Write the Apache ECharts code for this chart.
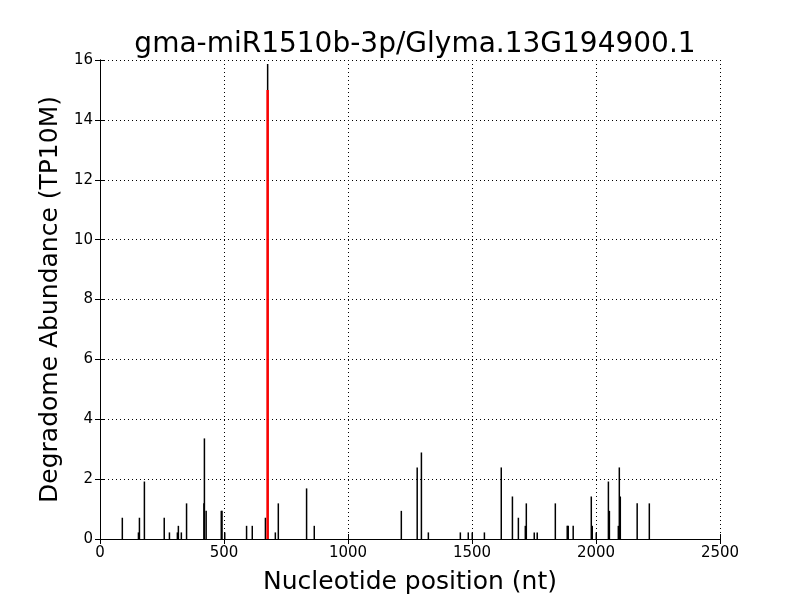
<!DOCTYPE html>
<html><head><meta charset="utf-8">
<script src="https://cdn.jsdelivr.net/npm/echarts@6/dist/echarts.min.js"></script>
<style>html,body{margin:0;padding:0;background:#fff}#c{width:800px;height:600px}</style>
</head><body><div id="c"></div>
<script>
var titleText = "gma-miR1510b-3p/Glyma.13G194900.1";
var xTicks = [0, 500, 1000, 1500, 2000, 2500];
var yTicks = [0, 2, 4, 6, 8, 10, 12, 14, 16];
var positions = [90, 155, 159, 179, 259, 280, 312, 316, 328, 349, 419, 421, 428, 489, 492, 503, 591, 614, 667, 676, 707, 719,
  833, 864, 1215, 1279, 1296, 1324, 1453, 1485, 1501, 1550,
  1618, 1663, 1687, 1715, 1719, 1751, 1763, 1836, 1884, 1888, 1908, 1981, 1985, 2001, 2050, 2054, 2090, 2094, 2098, 2166, 2215];
var abundance = [0.71, 0.22, 0.71, 1.92, 0.71, 0.22, 0.22, 0.44, 0.22, 1.19, 1.19, 3.36, 0.94, 0.94, 0.94, 0.22, 0.44, 0.44, 0.71, 15.87, 0.22, 1.19,
  1.69, 0.44, 0.94, 2.39, 2.89, 0.22, 0.22, 0.22, 0.22, 0.22,
  2.39, 1.42, 0.71, 0.44, 1.19, 0.22, 0.22, 1.19, 0.44, 0.44, 0.44, 1.42, 0.44, 0.22, 1.92, 0.94, 0.44, 2.39, 1.42, 1.19, 1.19];
var targetPos = [676];
var targetVal = [15.0];

function pairs(xs, ys){ return xs.map(function(x,i){ return [x, ys[i]]; }); }
function lineRenderer(color, width){
  return function(params, api){
    var p0 = api.coord([api.value(0), 0]);
    var p1 = api.coord([api.value(0), api.value(1)]);
    return {type:'line', shape:{x1:p0[0], y1:p0[1], x2:p1[0], y2:p1[1]},
      style:{stroke:color, lineWidth:width}};
  };
}
var font = 'DejaVu Sans';
var chart = echarts.init(document.getElementById('c'), null, {renderer:'canvas'});
var axisCommon = {
  axisLine:{show:true, lineStyle:{color:'#000', width:1}},
  axisTick:{show:true, inside:true, length:5, lineStyle:{color:'#000'}},
};
chart.setOption({
  animation:false,
  backgroundColor:'#fff',
  title:{text:titleText, left:410, top:26, textAlign:'center',
    textStyle:{fontFamily:font, fontSize:28, fontWeight:'normal', color:'#000'}},
  grid:{left:100, right:80, top:60, bottom:60, containLabel:false, show:false},
  xAxis:[
    Object.assign({type:'value', min:0, max:2500, interval:500, position:'bottom',
      name:'Nucleotide position (nt)', nameLocation:'middle', nameGap:31,
      nameTextStyle:{fontFamily:font, fontSize:25, color:'#000'},
      axisLabel:{fontFamily:font, fontSize:15, color:'#000', margin:7,
        formatter:function(v){ return String(v); }},
      splitLine:{show:true, lineStyle:{color:'#000', type:[1,3], width:1}}}, axisCommon),
    Object.assign({type:'value', min:0, max:2500, interval:500, position:'top',
      axisLabel:{show:false}, splitLine:{show:false}}, axisCommon)
  ],
  yAxis:[
    Object.assign({type:'value', min:0, max:16, interval:2, position:'left',
      name:'Degradome Abundance (TP10M)', nameLocation:'middle', nameGap:32,
      nameTextStyle:{fontFamily:font, fontSize:25, color:'#000'},
      axisLabel:{fontFamily:font, fontSize:15, color:'#000', margin:7},
      splitLine:{show:true, lineStyle:{color:'#000', type:[1,3], width:1}}}, axisCommon),
    Object.assign({type:'value', min:0, max:16, interval:2, position:'right',
      axisLabel:{show:false}, splitLine:{show:false}}, axisCommon)
  ],
  series:[
    {type:'custom', renderItem:lineRenderer('#000', 1.5), data:pairs(positions, abundance), encode:{x:0,y:1}, clip:true},
    {type:'custom', renderItem:lineRenderer('#ff0000', 2.5), data:pairs(targetPos, targetVal), encode:{x:0,y:1}, clip:true, z:3}
  ]
});
</script></body></html>
